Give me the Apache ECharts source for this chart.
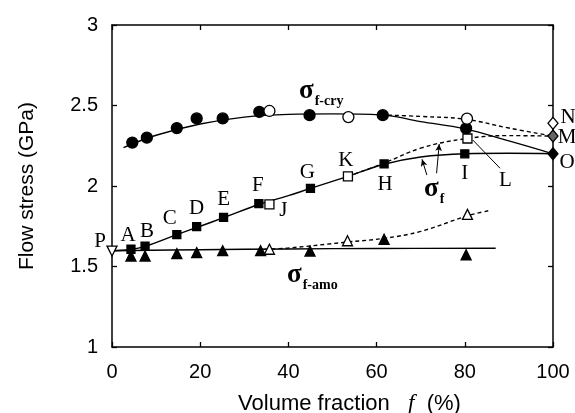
<!DOCTYPE html>
<html><head><meta charset="utf-8">
<script src="https://cdn.jsdelivr.net/npm/echarts@6/dist/echarts.min.js"></script>
<style>html,body{margin:0;padding:0;background:#fff}#c{width:575px;height:413px}</style>
</head><body><div id="c"></div>
<script>
// ---------- data ----------
const xTicks = [0, 20, 40, 60, 80, 100];
const yTicks = [1, 1.5, 2, 2.5, 3];

// sigma f-cry markers
const cryFilledX = [4.6, 7.9, 14.7, 19.2, 25.1, 33.4, 44.8, 61.4, 80.3];
const cryFilledY = [2.27, 2.30, 2.36, 2.42, 2.42, 2.46, 2.44, 2.44, 2.358];
const cryOpenX = [35.7, 53.6, 80.5];
const cryOpenY = [2.466, 2.428, 2.418];

// sigma f markers
const sfFilledX = [4.3, 7.5, 14.7, 19.2, 25.3, 33.3, 45.0, 61.7, 80.0];
const sfFilledY = [1.607, 1.627, 1.698, 1.748, 1.805, 1.89, 1.985, 2.137, 2.20];
const sfFilledLetters = ['A', 'B', 'C', 'D', 'E', 'F', 'G', 'H', 'I'];
const sfOpenX = [35.7, 53.5, 80.6];
const sfOpenY = [1.886, 2.06, 2.295];
const sfOpenLetters = ['J', 'K', 'L'];

// sigma f-amo markers
const amoFilledX = [4.3, 7.5, 14.7, 19.2, 25.1, 33.7, 44.9, 61.7, 80.3];
const amoFilledY = [1.565, 1.565, 1.58, 1.586, 1.598, 1.598, 1.596, 1.669, 1.573];
const amoOpenX = [35.7, 53.4, 80.6];
const amoOpenY = [1.607, 1.66, 1.824];

// end points
const pX = [0], pY = [1.596], pLetters = ['P'];
const endX = [100, 100, 100];
const endY = [2.39, 2.31, 2.20];
const endLetters = ['N', 'M', 'O'];

// fitted curves
const cryCurveX = [2.6, 10, 20, 30, 40, 50, 61, 70, 80, 90, 100];
const cryCurveY = [2.238, 2.315, 2.385, 2.428, 2.445, 2.448, 2.442, 2.40, 2.355, 2.28, 2.20];
const cryDashX = [61, 70, 80, 90, 100];
const cryDashY = [2.442, 2.432, 2.415, 2.36, 2.31];
const sfCurveX = [0, 4.3, 7.5, 14.7, 20, 25.3, 33.3, 40, 45, 53.5, 61.7, 70, 80, 90, 100];
const sfCurveY = [1.598, 1.606, 1.625, 1.698, 1.75, 1.803, 1.885, 1.94, 1.985, 2.06, 2.135, 2.18, 2.20, 2.203, 2.20];
const sfDashX = [53.5, 61.7, 70, 80, 90, 100];
const sfDashY = [2.06, 2.142, 2.235, 2.293, 2.313, 2.31];
const amoCurveX = [0, 20, 40, 60, 87];
const amoCurveY = [1.598, 1.604, 1.609, 1.612, 1.613];
const amoDashX = [33, 40, 53.4, 61.7, 70, 80.6, 85.5];
const amoDashY = [1.605, 1.615, 1.652, 1.675, 1.718, 1.815, 1.847];

// ---------- styles ----------
const labelOffset = {
  P: [-12, -10], A: [-3, -14], B: [2, -15], C: [-7, -16], D: [0, -18], E: [0, -18],
  F: [-1, -18], G: [-3, -16], H: [1, 21], I: [0, 20], J: [14, 6], K: [-2, -16],
  L: [38, 42], N: [15, -6], M: [14, 1], O: [14, 9]
};
const letterFont = { fontFamily: 'Liberation Serif', fontSize: 21, color: '#000' };

const zip = (xs, ys) => xs.map((x, i) => [x, ys[i]]);

function markers(xs, ys, symbol, size, fill, letters, extra) {
  return Object.assign({
    type: 'scatter', xAxisIndex: 0, yAxisIndex: 0, z: 5,
    symbol: symbol, symbolSize: size,
    itemStyle: { color: fill, borderColor: '#000', borderWidth: 1.3, opacity: 1 },
    data: xs.map((x, i) => {
      const d = { value: [x, ys[i]] };
      if (letters) {
        const L = letters[i];
        d.name = L;
        d.label = { show: true, position: 'inside', offset: labelOffset[L], formatter: L,
          align: 'center', verticalAlign: 'middle', ...letterFont };
      }
      return d;
    }),
    emphasis: { disabled: true }, silent: true, clip: false
  }, extra || {});
}
function curve(xs, ys, dashed, extra) {
  return Object.assign({
    type: 'line', xAxisIndex: 0, yAxisIndex: 0, z: 3, showSymbol: false, symbol: 'none',
    smooth: 0.4, data: zip(xs, ys),
    lineStyle: { color: '#000', width: 1.4, type: dashed ? [4, 3] : 'solid' },
    silent: true, animation: false
  }, extra || {});
}

const chart = echarts.init(document.getElementById('c'), null, { renderer: 'canvas' });
const axisCommon = {
  axisLine: { show: true, onZero: false, lineStyle: { color: '#000', width: 1.5 } },
  axisTick: { show: true, inside: true, length: 5, lineStyle: { color: '#000', width: 1.3 } },
  splitLine: { show: false }
};
const tickFont = { fontFamily: 'Liberation Sans', fontSize: 20, color: '#000' };
const sigmaRich = {
  s: { fontFamily: 'Liberation Serif', fontWeight: 'bold', fontSize: 27, fill: '#000', verticalAlign: 'bottom' },
  t: { fontFamily: 'Liberation Serif', fontWeight: 'bold', fontSize: 14, fill: '#000', verticalAlign: 'bottom', padding: [0, 0, -3, 1] }
};

chart.setOption({
  animation: false,
  backgroundColor: '#fff',
  grid: { left: 112, right: 22, top: 25, bottom: 66, containLabel: false, outerBoundsMode: 'none' },
  xAxis: [
    Object.assign({ type: 'value', min: xTicks[0], max: xTicks[xTicks.length - 1], interval: 20,
      position: 'bottom',
      axisLabel: Object.assign({ margin: 15 }, tickFont),
      name: 'Volume fraction   {i|f}  (%)', nameLocation: 'middle', nameGap: 45,
      nameTextStyle: { fontFamily: 'Liberation Sans', fontSize: 22, color: '#000', padding: [0, 0, 0, 34],
        rich: { i: { fontFamily: 'Liberation Serif', fontStyle: 'italic', fontSize: 23, color: '#000' } } }
    }, axisCommon),
    Object.assign({ type: 'value', min: 0, max: 100, interval: 20, position: 'top',
      axisLabel: { show: false } }, axisCommon)
  ],
  yAxis: [
    Object.assign({ type: 'value', min: yTicks[0], max: yTicks[yTicks.length - 1], interval: 0.5,
      position: 'left',
      axisLabel: Object.assign({ margin: 14, formatter: v => String(v) }, tickFont),
      name: 'Flow stress (GPa)', nameLocation: 'middle', nameGap: 74, nameRotate: 90,
      nameTextStyle: { fontFamily: 'Liberation Sans', fontSize: 21, color: '#000' }
    }, axisCommon),
    Object.assign({ type: 'value', min: 1, max: 3, interval: 0.5, position: 'right',
      axisLabel: { show: false } }, axisCommon)
  ],
  series: [
    curve(cryCurveX, cryCurveY, false),
    curve(cryDashX, cryDashY, true),
    curve(sfCurveX, sfCurveY, false, {
      markLine: {
        silent: true, symbol: ['none', 'arrow'], symbolSize: [5, 7], animation: false,
        label: { show: false },
        lineStyle: { color: '#000', width: 1, type: 'solid' },
        data: [
          [{ coord: [71.4, 2.068] }, { coord: [70.3, 2.166] }],
          [{ coord: [73.6, 2.079] }, { coord: [74.2, 2.261] }]
        ]
      }
    }),
    curve(sfDashX, sfDashY, true),
    curve(amoCurveX, amoCurveY, false, {
      markLine: {
        silent: true, symbol: ['none', 'none'], animation: false,
        label: { show: false },
        lineStyle: { color: '#000', width: 1, type: 'solid' },
        data: [[{ coord: [88.0, 2.11] }, { coord: [81.8, 2.286] }]]
      }
    }),
    curve(amoDashX, amoDashY, true),
    markers(cryFilledX, cryFilledY, 'circle', 11, '#000'),
    markers(cryOpenX, cryOpenY, 'circle', 11, '#fff'),
    markers(sfFilledX, sfFilledY, 'rect', 8, '#000', sfFilledLetters),
    markers(sfOpenX, sfOpenY, 'rect', 9, '#fff', sfOpenLetters),
    markers(amoFilledX, amoFilledY, 'triangle', 10, '#000'),
    markers(amoOpenX, amoOpenY, 'triangle', 10, '#fff'),
    markers(pX, pY, 'triangle', 10, '#fff', pLetters, { symbolRotate: 180 }),
    Object.assign(markers(endX, endY, 'diamond', [10, 12], '#000', endLetters), {
      data: endX.map((x, i) => {
        const L = endLetters[i];
        return {
          value: [x, endY[i]], name: L,
          itemStyle: { color: ['#fff', '#666', '#000'][i], borderColor: '#000', borderWidth: 1.3 },
          label: { show: true, position: 'inside', offset: labelOffset[L], formatter: L,
            align: 'center', verticalAlign: 'middle', ...letterFont }
        };
      })
    })
  ],
  graphic: [
    { type: 'text', left: 299, top: 78, silent: true, style: { text: '{s|σ}{t|f-cry}', rich: sigmaRich } },
    { type: 'text', left: 424, top: 176, silent: true, style: { text: '{s|σ}{t|f}', rich: sigmaRich } },
    { type: 'text', left: 287, top: 262, silent: true, style: { text: '{s|σ}{t|f-amo}', rich: sigmaRich } }
  ]
});
</script></body></html>
